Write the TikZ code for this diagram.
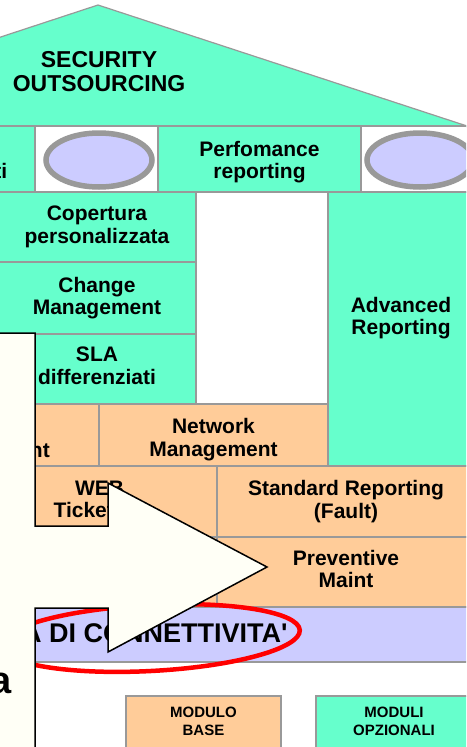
\documentclass[tikz,border=0pt]{standalone}
\usepackage{fontspec}
\setmainfont{Liberation Sans}
\definecolor{mint}{RGB}{102,255,204}
\definecolor{peach}{RGB}{255,204,153}
\definecolor{lilac}{RGB}{204,204,255}
\definecolor{cream}{RGB}{255,255,246}
\definecolor{edge}{RGB}{153,153,153}
\begin{document}
\begin{tikzpicture}[x=1pt,y=-1pt,
		box/.style={draw=edge,line width=1.2pt},
		hole/.style={draw=edge,line width=5.5pt,fill=lilac},
		lbl/.style={inner sep=0pt,align=center,font=\fontsize{21}{22.5}\selectfont\bfseries},
		small/.style={inner sep=0pt,align=center,font=\fontsize{15}{18}\selectfont\bfseries}]
		\useasboundingbox (0,0) rectangle (466,747);
		\clip (0,0) rectangle (466,747);
		% roof
		\filldraw[box,fill=mint] (-270,126) -- (98,5) -- (470,127) -- cycle;
		\node[lbl,font=\fontsize{23}{24}\selectfont\bfseries] (secu) at (99,72) {SECURITY\\OUTSOURCING};
		% first row
		\filldraw[box,fill=mint] (-60,126) rectangle (35,192);
		\filldraw[box,fill=white] (35,126) rectangle (158,192);
		\filldraw[box,fill=mint] (158,126) rectangle (361,192);
		\filldraw[box,fill=white] (361,126) rectangle (480,192);
		\filldraw[hole] (99,160) ellipse (53pt and 27pt);
		\filldraw[hole] (420,160) ellipse (53pt and 27pt);
		\node[lbl,anchor=base east] (srv) at (7.5,178) {ti};
		\node[lbl] (perf) at (259.5,162) {Perfomance\\reporting};
		% green columns
		\filldraw[box,fill=mint] (-3,192) rectangle (196,262);
		\filldraw[box,fill=mint] (-3,262) rectangle (196,334);
		\filldraw[box,fill=mint] (-3,334) rectangle (196,404);
		\filldraw[box,fill=white] (196,192) rectangle (328,404);
		\filldraw[box,fill=mint] (328,192) rectangle (478,466);
		\node[lbl] (cop) at (97,227) {Copertura\\personalizzata};
		\node[lbl] (chg) at (97,298) {Change\\Management};
		\node[lbl] (sla) at (97,366) {SLA\\differenziati};
		\node[lbl] (adv) at (401,318) {Advanced\\Reporting};
		% orange rows
		\filldraw[box,fill=peach] (-100,404) rectangle (99,466);
		\filldraw[box,fill=peach] (99,404) rectangle (328,466);
		\filldraw[box,fill=peach] (-18,466) rectangle (217,537);
		\filldraw[box,fill=peach] (-18,537) rectangle (217,607);
		\filldraw[box,fill=peach] (217,466) rectangle (478,537);
		\filldraw[box,fill=peach] (217,537) rectangle (478,607);
		\node[lbl,anchor=base east] (mgmt) at (50,457) {nt};
		\node[lbl] (net) at (213.5,439.5) {Network\\Management};
		\node[lbl] (web) at (99.5,501.5) {WEB\\Ticketing};
		\node[lbl] (std) at (346,501.5) {Standard Reporting\\(Fault)};
		\node[lbl] (prev) at (346,569) {Preventive\\Maint};
		% base band
		\filldraw[box,fill=lilac] (-20,607) rectangle (480,662);
		\node[lbl,font=\fontsize{27}{28}\selectfont\bfseries,anchor=base west] (conn) at (22,642) {A DI CONNETTIVITA\textquotesingle};
		\draw[red,line width=4.5pt,rotate around={3:(150,638)}] (150,638) ellipse (150pt and 33pt);
		% legend
		\filldraw[box,fill=peach] (126,696) rectangle (281,749);
		\filldraw[box,fill=mint] (316,696) rectangle (471,749);
		\node[small] (base) at (203.5,721) {MODULO\\BASE};
		\node[small] (opz) at (394,721) {MODULI\\OPZIONALI};
		% panel with arrow
		\filldraw[draw=black,line width=1.5pt,fill=cream] (-5,333) -- (35,333) -- (35,526) -- (108,526) -- (108,483) -- (267,567) -- (108,652) -- (108,608) -- (35,608) -- (35,755) -- (-5,755) -- cycle;
		\node[inner sep=0pt,font=\fontsize{38}{40}\selectfont\bfseries,anchor=base east] (word) at (12,693) {a};
	    \end{tikzpicture}
\end{document}
